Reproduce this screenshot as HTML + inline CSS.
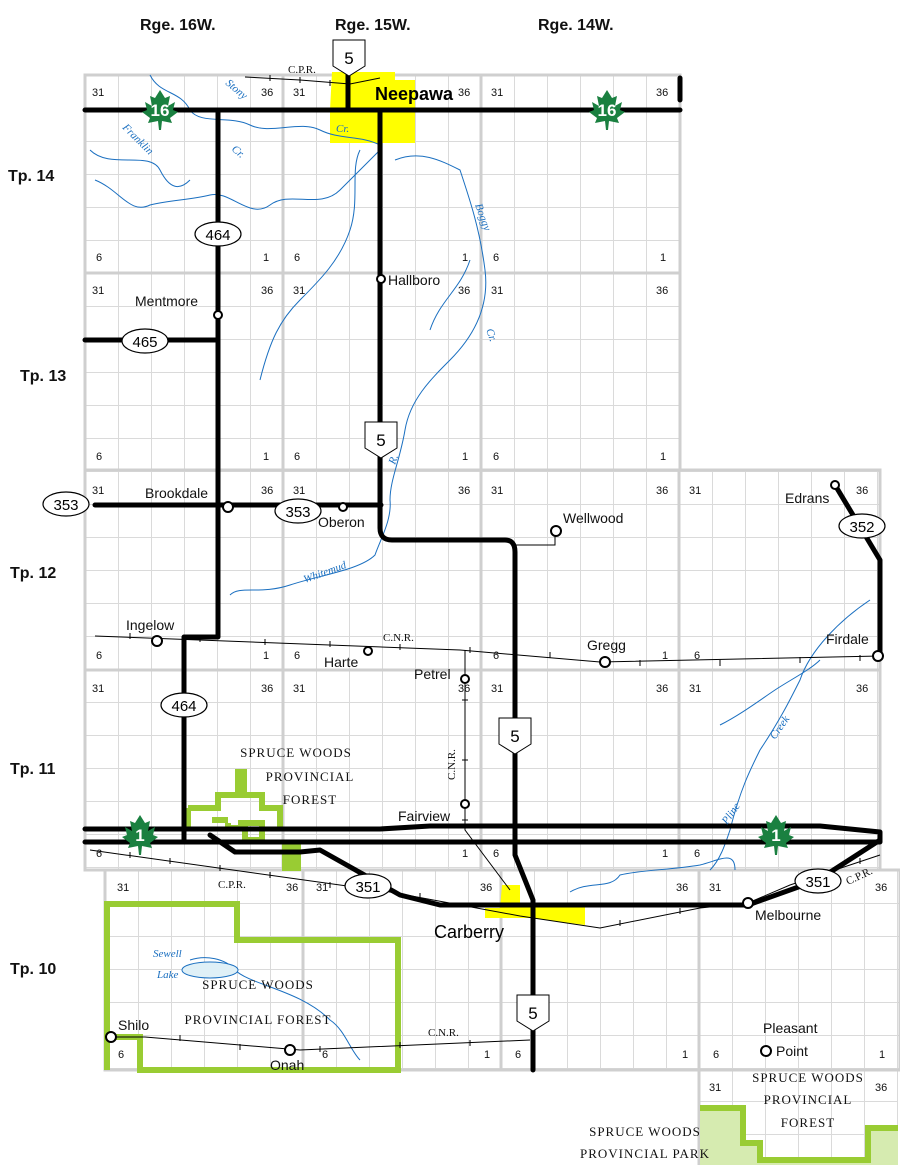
<!DOCTYPE html>
<html><head><meta charset="utf-8"><style>
html,body{margin:0;padding:0;background:#fff}
svg{display:block}
.s{font:11px "Liberation Sans",sans-serif;fill:#111}
.t{font:16px "Liberation Sans",sans-serif;fill:#111}
.h{font:bold 16px "Liberation Sans",sans-serif;fill:#111}
.r{font:italic 11px "Liberation Serif",serif;fill:#1a6fc0}
.f{font:13px "Liberation Serif",serif;fill:#111;letter-spacing:1px}
.g{fill:none;stroke:#d9d9d9;stroke-width:1.5}
.rd{fill:none;stroke:#000;stroke-width:5;stroke-linejoin:round;stroke-linecap:round}
.rl{fill:none;stroke:#000;stroke-width:1}
.rv{fill:none;stroke:#1a6fc0;stroke-width:1}
.tw{fill:#fff;stroke:#000;stroke-width:2}
.ov{fill:#fff;stroke:#000;stroke-width:1.2}
.ot{font:15px "Liberation Sans",sans-serif;fill:#000;text-anchor:middle}
.gr{fill:none;stroke:#99cc33;stroke-width:6}
</style></head><body>
<svg width="900" height="1175" viewBox="0 0 900 1175" xmlns="http://www.w3.org/2000/svg">
<defs>
<pattern id="pA" x="85" y="75" width="33" height="33" patternUnits="userSpaceOnUse"><path d="M0 0H33M0 0V33" stroke="#dadada" stroke-width="2" fill="none"/></pattern>
<pattern id="pC" x="105" y="870" width="33" height="33" patternUnits="userSpaceOnUse"><path d="M0 0H33M0 0V33" stroke="#dadada" stroke-width="2" fill="none"/></pattern>
</defs>
<rect x="85" y="75" width="595" height="395" fill="url(#pA)"/>
<rect x="85" y="470" width="795" height="400" fill="url(#pA)"/>
<rect x="105" y="870" width="795" height="200" fill="url(#pC)"/>
<rect x="700" y="1070" width="198" height="95" fill="url(#pC)"/>
<g class="g" style="stroke:#cfcfcf;stroke-width:3">
<rect x="85" y="75" width="595" height="395"/>
<rect x="85" y="470" width="795" height="400"/>
<rect x="105" y="870" width="795" height="200"/>
<path d="M283 75V870M481 75V870M679 470V870M85 273H680M85 670H880M303 870V1070M501 870V1070M699 870V1165"/>
</g>
<path d="M332 72H395V80H415V143H330V110Z" fill="#ffff00"/>
<path d="M502 885H520V905H585V925L530 918H485V908H500Z" fill="#ffff00"/>
<path d="M700 1105H745V1140H760V1158H868V1125H898V1165H700Z" fill="#d6ebb0"/>
<path d="M700 1108H743V1143H760V1160H868V1128H898" fill="none" stroke="#99cc33" stroke-width="6"/>
<path class="gr" d="M107 1070V904H237V940H398V1070H140V1037H107"/>
<path class="gr" d="M188 808H218V795H238V772H244V795H262V808H280V828M188 808V830M238 823H262V840H245V828H228V823M212 820H228"/>
<path class="gr" d="M285 845V868H298V845Z" style="fill:#99cc33"/>
<g class="rv">
<path d="M150 75C160 95 180 90 190 110C200 125 230 115 250 125C270 135 300 120 320 130C340 140 360 135 380 145"/>
<path d="M90 150C110 170 150 150 160 170C170 190 180 190 190 180M95 180C120 190 130 215 150 205C170 200 190 200 210 195C230 190 250 220 270 205C290 190 320 210 340 190C355 175 370 160 380 150"/>
<path d="M360 150C350 170 360 200 350 230C340 260 320 280 300 300C280 320 270 340 260 380"/>
<path d="M395 160C420 150 440 160 460 170C470 200 480 230 485 270C490 310 470 340 450 360C430 380 410 400 405 430C400 460 390 480 390 500C392 520 380 540 375 555C360 570 320 575 290 585C260 595 240 585 230 595"/>
<path d="M470 260C460 290 440 300 430 330"/>
<path d="M870 600C840 620 810 650 800 680C790 700 780 720 760 750C750 770 740 790 730 830C725 845 720 860 710 870"/>
<path d="M720 725C740 715 760 700 775 690C790 680 810 670 820 660"/>
<path d="M570 892C590 880 610 890 620 875C640 870 670 870 700 865C720 860 735 850 735 870"/>
<path d="M190 960C205 955 225 958 235 970C250 985 300 990 330 1020C345 1030 350 1050 360 1060" />
<ellipse cx="210" cy="970" rx="28" ry="8" fill="#dff0f7"/>
</g>
<g class="rl">
<path d="M245 77L300 80L350 84L380 78"/>
<path d="M95 636L460 650L600 662L880 656"/>
<path d="M465 650V830L510 890"/>
<path d="M90 850L390 892L520 916L600 928L700 908L748 903L790 885L880 855"/>
<path d="M110 1037H145L300 1050L530 1040"/>
<path d="M515 545H555V531"/>
</g>
<g stroke="#000" stroke-width="1">
<path d="M130 633v6M200 636v6M265 639v6M330 641v6M400 644v6M470 647v6M550 652v6M640 660v6M720 660v6M800 657v6M860 655v6"/>
<path d="M130 852v6M170 858v6M220 865v6M270 872v6M330 882v6M420 893v6M620 920v6M680 908v6M820 870v6M860 858v6"/>
<path d="M180 1035v6M240 1044v6M320 1046v6M400 1042v6M470 1040v6"/>
<path d="M270 75v6M300 77v6M330 80v6"/>
<path d="M462 700h6M462 760h6M462 820h6"/>
</g>
<g class="rd">
<path d="M85 110H680M680 100V78"/>
<path d="M348 72V110M380 112V528Q380 540 392 540H505Q515 540 515 552V855L533 900V1070"/>
<path d="M218 110V637H184V840"/>
<path d="M85 340H218"/>
<path d="M95 505H381"/>
<path d="M835 485L862 530L880 560V655"/>
<path d="M85 829H380L430 826H820L880 832M85 842H880L880 832"/>
<path d="M210 835L235 852H300L320 850L400 895L440 905H748L818 880L880 840"/>
</g>
<g class="tw">
<circle cx="381" cy="279" r="4"/><circle cx="218" cy="315" r="4"/><circle cx="228" cy="507" r="5"/><circle cx="343" cy="507" r="4"/>
<circle cx="556" cy="531" r="5"/><circle cx="835" cy="485" r="4"/><circle cx="878" cy="656" r="5"/><circle cx="157" cy="641" r="5"/>
<circle cx="368" cy="651" r="4"/><circle cx="605" cy="662" r="5"/><circle cx="465" cy="679" r="4"/><circle cx="465" cy="804" r="4"/>
<circle cx="748" cy="903" r="5"/><circle cx="766" cy="1051" r="5"/><circle cx="111" cy="1037" r="5"/><circle cx="290" cy="1050" r="5"/>
</g>
<g>
<path d="M333 40h32v26l-16 10l-16-10z" fill="#fff" stroke="#000"/><text x="349" y="64" class="ot" style="font-size:17px">5</text>
<path d="M365 422h32v26l-16 10l-16-10z" fill="#fff" stroke="#000"/><text x="381" y="446" class="ot" style="font-size:17px">5</text>
<path d="M499 718h32v26l-16 10l-16-10z" fill="#fff" stroke="#000"/><text x="515" y="742" class="ot" style="font-size:17px">5</text>
<path d="M517 995h32v26l-16 10l-16-10z" fill="#fff" stroke="#000"/><text x="533" y="1019" class="ot" style="font-size:17px">5</text>
</g>
<g>
<ellipse class="ov" cx="218" cy="234" rx="23" ry="12"/><text class="ot" x="218" y="240">464</text>
<ellipse class="ov" cx="184" cy="705" rx="23" ry="12"/><text class="ot" x="184" y="711">464</text>
<ellipse class="ov" cx="145" cy="341" rx="23" ry="12"/><text class="ot" x="145" y="347">465</text>
<ellipse class="ov" cx="66" cy="504" rx="23" ry="12"/><text class="ot" x="66" y="510">353</text>
<ellipse class="ov" cx="298" cy="511" rx="23" ry="12"/><text class="ot" x="298" y="517">353</text>
<ellipse class="ov" cx="862" cy="526" rx="23" ry="12"/><text class="ot" x="862" y="532">352</text>
<ellipse class="ov" cx="368" cy="886" rx="23" ry="12"/><text class="ot" x="368" y="892">351</text>
<ellipse class="ov" cx="818" cy="881" rx="23" ry="12"/><text class="ot" x="818" y="887">351</text>
</g>
<g fill="#1a8040">
<path id="ml" d="M0 -20L5 -12L10 -14L8 -4L15 -8L13 0L18 2L10 8L12 13L2 11L1 20H-1L-2 11L-12 13L-10 8L-18 2L-13 0L-15 -8L-8 -4L-10 -14L-5 -12Z" transform="translate(160,110)"/>
<use href="#ml" transform="translate(447,0)"/>
<use href="#ml" transform="translate(-20,725)"/>
<use href="#ml" transform="translate(616,725)"/>
</g>
<g style="font:bold 17px 'Liberation Sans',sans-serif;fill:#fff;text-anchor:middle">
<text x="160" y="116">16</text><text x="607" y="116">16</text><text x="140" y="841">1</text><text x="776" y="841">1</text>
</g>
<text class="h" x="140" y="30">Rge. 16W.</text><text class="h" x="335" y="30">Rge. 15W.</text><text class="h" x="538" y="30">Rge. 14W.</text>
<text class="h" x="8" y="181">Tp. 14</text><text class="h" x="20" y="381">Tp. 13</text><text class="h" x="10" y="578">Tp. 12</text>
<text class="h" x="10" y="774">Tp. 11</text><text class="h" x="10" y="974">Tp. 10</text>
<text x="375" y="100" style="font:bold 18px 'Liberation Sans',sans-serif">Neepawa</text>
<text class="t" x="388" y="285" style="font-size:14px">Hallboro</text>
<text class="t" x="135" y="306" style="font-size:14px">Mentmore</text>
<text class="t" x="145" y="498" style="font-size:14px">Brookdale</text>
<text class="t" x="318" y="527" style="font-size:14px">Oberon</text>
<text class="t" x="563" y="523" style="font-size:14px">Wellwood</text>
<text class="t" x="785" y="503" style="font-size:14px">Edrans</text>
<text class="t" x="826" y="644" style="font-size:14px">Firdale</text>
<text class="t" x="126" y="630" style="font-size:14px">Ingelow</text>
<text class="t" x="324" y="667" style="font-size:14px">Harte</text>
<text class="t" x="587" y="650" style="font-size:14px">Gregg</text>
<text class="t" x="414" y="679" style="font-size:14px">Petrel</text>
<text class="t" x="398" y="821" style="font-size:14px">Fairview</text>
<text x="434" y="938" style="font:18px 'Liberation Sans',sans-serif">Carberry</text>
<text class="t" x="755" y="920" style="font-size:14px">Melbourne</text>
<text class="t" x="763" y="1033" style="font-size:14px">Pleasant</text>
<text class="t" x="776" y="1056" style="font-size:14px">Point</text>
<text class="t" x="118" y="1030" style="font-size:14px">Shilo</text>
<text class="t" x="270" y="1070" style="font-size:14px">Onah</text>
<g class="f" text-anchor="middle">
<text x="296" y="757">SPRUCE WOODS</text><text x="310" y="781">PROVINCIAL</text><text x="310" y="804">FOREST</text>
<text x="258" y="989">SPRUCE WOODS</text><text x="258" y="1024">PROVINCIAL FOREST</text>
<text x="808" y="1082">SPRUCE WOODS</text><text x="808" y="1104">PROVINCIAL</text><text x="808" y="1127">FOREST</text>
<text x="645" y="1136">SPRUCE WOODS</text><text x="645" y="1158">PROVINCIAL PARK</text>
</g>
<g style="font:11px 'Liberation Serif',serif;fill:#111">
<text x="288" y="73">C.P.R.</text><text x="383" y="641">C.N.R.</text><text x="218" y="888">C.P.R.</text>
<text x="428" y="1036">C.N.R.</text>
<text x="848" y="885" transform="rotate(-25 848 885)">C.P.R.</text>
<text x="455" y="780" transform="rotate(-90 455 780)">C.N.R.</text>
</g>
<g class="r">
<text x="225" y="84" transform="rotate(40 225 84)">Stony</text>
<text x="336" y="132">Cr.</text><text x="231" y="150" transform="rotate(40 231 150)">Cr.</text>
<text x="122" y="128" transform="rotate(45 122 128)">Franklin</text>
<text x="475" y="205" transform="rotate(70 475 205)">Boggy</text>
<text x="486" y="330" transform="rotate(70 486 330)">Cr.</text>
<text x="395" y="465" transform="rotate(-70 395 465)">R.</text>
<text x="305" y="583" transform="rotate(-20 305 583)">Whitemud</text>
<text x="775" y="740" transform="rotate(-55 775 740)">Creek</text>
<text x="727" y="825" transform="rotate(-55 727 825)">Pline</text>
<text x="153" y="957">Sewell</text><text x="157" y="978">Lake</text>
</g>
<g class="s">
<text x="92" y="96">31</text><text x="261" y="96">36</text><text x="293" y="96">31</text><text x="458" y="96">36</text><text x="491" y="96">31</text><text x="656" y="96">36</text>
<text x="96" y="261">6</text><text x="263" y="261">1</text><text x="294" y="261">6</text><text x="462" y="261">1</text><text x="493" y="261">6</text><text x="660" y="261">1</text>
<text x="92" y="294">31</text><text x="261" y="294">36</text><text x="293" y="294">31</text><text x="458" y="294">36</text><text x="491" y="294">31</text><text x="656" y="294">36</text>
<text x="96" y="460">6</text><text x="263" y="460">1</text><text x="294" y="460">6</text><text x="462" y="460">1</text><text x="493" y="460">6</text><text x="660" y="460">1</text>
<text x="92" y="494">31</text><text x="261" y="494">36</text><text x="293" y="494">31</text><text x="458" y="494">36</text><text x="491" y="494">31</text><text x="656" y="494">36</text><text x="689" y="494">31</text><text x="856" y="494">36</text>
<text x="96" y="659">6</text><text x="263" y="659">1</text><text x="294" y="659">6</text><text x="493" y="659">6</text><text x="662" y="659">1</text><text x="694" y="659">6</text>
<text x="92" y="692">31</text><text x="261" y="692">36</text><text x="293" y="692">31</text><text x="458" y="692">36</text><text x="491" y="692">31</text><text x="656" y="692">36</text><text x="689" y="692">31</text><text x="856" y="692">36</text>
<text x="96" y="857">6</text><text x="462" y="857">1</text><text x="493" y="857">6</text><text x="662" y="857">1</text><text x="694" y="857">6</text>
<text x="117" y="891">31</text><text x="286" y="891">36</text><text x="316" y="891">31</text><text x="480" y="891">36</text><text x="676" y="891">36</text><text x="709" y="891">31</text><text x="875" y="891">36</text>
<text x="118" y="1058">6</text><text x="322" y="1058">6</text><text x="484" y="1058">1</text><text x="515" y="1058">6</text><text x="682" y="1058">1</text><text x="713" y="1058">6</text><text x="879" y="1058">1</text>
<text x="709" y="1091">31</text><text x="875" y="1091">36</text>
</g>
</svg>
</body></html>
